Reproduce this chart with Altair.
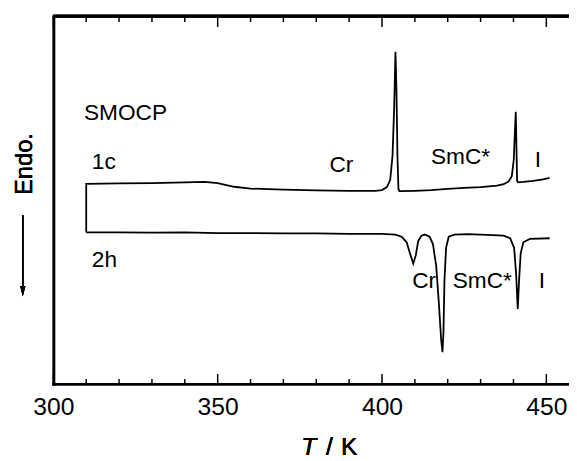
import altair as alt
import pandas as pd

# ---- data (T in K, heat-flow signal in arbitrary units) ----
up_T = [310, 310, 320, 330, 340, 346, 350, 355, 360, 370, 380, 390, 398, 400, 401.5,
        402.5, 403.2, 403.7, 404.1, 404.4, 404.7, 405.0, 405.3, 410, 415, 420, 425,
        430, 435, 437, 438.5, 439.5, 440.1, 440.5, 440.7, 440.9, 441.1, 441.4, 443,
        446, 449, 451]
up_v = [41.2, 54.4, 54.5, 54.6, 54.8, 54.9, 54.6, 53.6, 53.1, 52.8, 52.6, 52.5, 52.5,
        52.7, 53.5, 55.5, 62.0, 75.0, 90.3, 80.0, 62.0, 53.0, 52.4, 52.5, 52.7, 53.0,
        53.3, 53.5, 53.9, 54.3, 55.0, 56.5, 61.0, 70.0, 74.0, 65.0, 55.2, 54.8, 54.9,
        55.2, 55.6, 56.0]

lo_T = [310, 320, 330, 340, 350, 360, 370, 380, 390, 400, 404, 406, 407.5, 408.5,
        409.5, 410.3, 411.0, 412, 413, 414.5, 415.5, 416.5, 417.3, 418.0, 418.4, 418.7,
        419.0, 419.5, 420.3, 422, 426, 432, 437, 439, 440.2, 440.8, 441.3, 441.7, 442.2,
        443, 445, 451]
lo_v = [41.2, 41.2, 41.1, 41.2, 41.0, 41.0, 40.9, 40.9, 40.8, 40.8, 40.6, 40.0, 38.5,
        35.5, 32.7, 35.0, 38.8, 40.3, 40.6, 40.0, 38.0, 32.0, 22.0, 12.0, 8.6, 14.0,
        28.0, 37.0, 40.0, 40.6, 40.7, 40.5, 40.3, 39.6, 37.0, 30.0, 20.4, 28.0, 35.5,
        38.5, 39.4, 39.6]

major_ticks = [300, 350, 400, 450]
minor_ticks = [310, 320, 330, 340, 360, 370, 380, 390, 410, 420, 430, 440]

label_text = ["SMOCP", "1c", "Cr", "SmC*", "I", "2h", "Cr", "SmC*", "I"]
label_T = [309.3, 311.7, 384.0, 414.9, 446.5, 311.7, 409.2, 421.5, 447.7]
label_v = [71.85, 58.4, 57.6, 59.8, 59.0, 31.9, 26.0, 26.0, 26.0]

title_parts = ["T", "/", "K"]

# ---- tables ----
curves = pd.concat([
    pd.DataFrame({"T": up_T, "v": up_v, "run": "1c", "i": range(len(up_T))}),
    pd.DataFrame({"T": lo_T, "v": lo_v, "run": "2h", "i": range(len(lo_T))}),
])
majors = pd.DataFrame({"T": major_ticks})
minors = pd.DataFrame({"T": minor_ticks})
labels = pd.DataFrame({"t": label_text, "T": label_T, "v": label_v})

W, H = 523, 373
FONT = "Liberation Sans"
xs = alt.Scale(domain=[300, 456.9], nice=False, zero=False)
ys = alt.Scale(domain=[0, 100], nice=False, zero=False)

xaxis = alt.Axis(values=major_ticks, labelFontSize=25, labelFont=FONT, labelColor="black",
                 tickSize=0, labelPadding=31, labelBaseline="alphabetic", labelFlush=False,
                 labelOverlap=False, domainWidth=3, domainColor="black", domainCap="square",
                 title=None, grid=False, format="d")
yaxis = alt.Axis(labels=False, ticks=False, title=None, grid=False, domainWidth=3,
                 domainColor="black", domainCap="square")

lines = alt.Chart(curves).mark_line(color="black", strokeWidth=1.8).encode(
    x=alt.X("T:Q", scale=xs, axis=xaxis),
    y=alt.Y("v:Q", scale=ys, axis=yaxis),
    detail="run:N",
    order="i:Q",
)

top_frame = alt.Chart(majors).mark_rule(color="black", strokeWidth=3).encode(
    x=alt.value(0), x2=alt.value(W), y=alt.value(0))

maj_bot = alt.Chart(majors).mark_rule(color="black", strokeWidth=1.5).encode(
    x=alt.X("T:Q", scale=xs), y=alt.value(H - 10), y2=alt.value(H))
min_bot = alt.Chart(minors).mark_rule(color="black", strokeWidth=1.5).encode(
    x=alt.X("T:Q", scale=xs), y=alt.value(H - 5), y2=alt.value(H))
maj_top = alt.Chart(majors).mark_rule(color="black", strokeWidth=1.5).encode(
    x=alt.X("T:Q", scale=xs), y=alt.value(0), y2=alt.value(11))
min_top = alt.Chart(minors).mark_rule(color="black", strokeWidth=1.5).encode(
    x=alt.X("T:Q", scale=xs), y=alt.value(0), y2=alt.value(6))

texts = alt.Chart(labels).mark_text(font=FONT, fontSize=23, align="left",
                                    baseline="alphabetic", color="black").encode(
    x=alt.X("T:Q", scale=xs), y=alt.Y("v:Q", scale=ys), text="t:N")

endo = alt.Chart(majors).mark_text(text="Endo.", font=FONT, fontSize=24, angle=270,
                                   align="center", baseline="middle", color="black").encode(
    x=alt.value(-29), y=alt.value(150))
arrow_shaft = alt.Chart(majors).mark_rule(color="black", strokeWidth=1.5).encode(
    x=alt.value(-31), y=alt.value(202), y2=alt.value(278))
arrow_head = alt.Chart(majors).mark_point(shape="M-0.5,-1L0,1L0.5,-1Z", filled=True,
                                          color="black", size=110, opacity=1).encode(
    x=alt.value(-31), y=alt.value(279))

t_it = alt.Chart(majors).mark_text(text=title_parts[0], font=FONT, fontSize=25,
                                   fontStyle="italic", align="center",
                                   baseline="alphabetic", color="black").encode(
    x=alt.value(259), y=alt.value(445))
t_slash = alt.Chart(majors).mark_text(text=title_parts[1], font=FONT, fontSize=25,
                                      align="center", baseline="alphabetic",
                                      color="black").encode(
    x=alt.value(280), y=alt.value(445))
t_k = alt.Chart(majors).mark_text(text=title_parts[2], font=FONT, fontSize=25,
                                  align="center", baseline="alphabetic",
                                  color="black").encode(
    x=alt.value(300), y=alt.value(445))

chart = alt.layer(
    lines, top_frame, maj_bot, min_bot, maj_top, min_top, texts, endo,
    arrow_shaft, arrow_head, t_it, t_slash, t_k
).properties(
    width=W, height=H,
    padding={"left": 46, "top": 5, "right": 0, "bottom": 75},
    autosize=alt.AutoSizeParams(type="none"),
).configure_view(stroke=None)

chart.save("out.html", embed_options={"renderer": "svg", "actions": False})
